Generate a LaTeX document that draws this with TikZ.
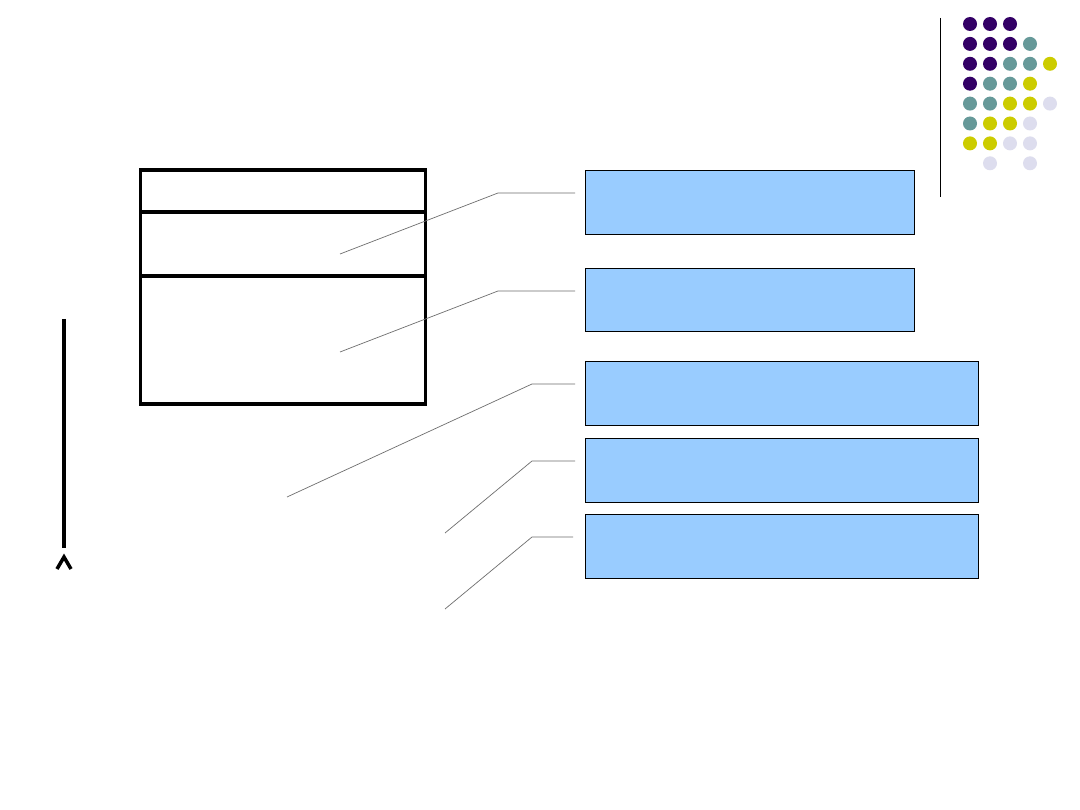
\documentclass[tikz,border=0pt]{standalone}
\begin{document}
\begin{tikzpicture}[x=1pt,y=-1pt,
  bluebox/.style={draw=black,line width=0.8pt,fill={rgb,255:red,153;green,204;blue,255},inner sep=0pt,outer sep=0pt},
  callout/.style={draw={rgb,255:red,110;green,110;blue,110},line width=0.7pt},
  thick frame/.style={line width=3.6pt,draw=black,outer sep=0pt},
  dotP/.style={fill={rgb,255:red,51;green,0;blue,102}},
  dotT/.style={fill={rgb,255:red,102;green,153;blue,153}},
  dotY/.style={fill={rgb,255:red,204;green,204;blue,0}},
  dotL/.style={fill={rgb,255:red,221;green,221;blue,238}}]
\useasboundingbox (0,0) rectangle (1080,810);
\fill[white] (0,0) rectangle (1080,810);
% dot grid
\foreach \c/\r/\s in {0/0/P,1/0/P,2/0/P,
  0/1/P,1/1/P,2/1/P,3/1/T,
  0/2/P,1/2/P,2/2/T,3/2/T,4/2/Y,
  0/3/P,1/3/T,2/3/T,3/3/Y,
  0/4/T,1/4/T,2/4/Y,3/4/Y,4/4/L,
  0/5/T,1/5/Y,2/5/Y,3/5/L,
  0/6/Y,1/6/Y,2/6/L,3/6/L,
  1/7/L,3/7/L}
  \path[dot\s] (970+20*\c,24+19.9*\r) circle (7);
\draw[line width=1pt] (940,18) coordinate (vt) -- (940,197) coordinate (vb);
% frame
\node[thick frame,minimum width=285pt,minimum height=234pt,anchor=north west,inner sep=0pt] (frame) at (140.5,170) {};
\coordinate (d1l) at (140.5,212); \coordinate (d1r) at (425.5,212);
\coordinate (d2l) at (140.5,276); \coordinate (d2r) at (425.5,276);
\draw[line width=3.6pt] (d1l) -- (d1r);
\draw[line width=3.6pt] (d2l) -- (d2r);
% left arrow
\coordinate (at) at (64,319); \coordinate (ab) at (64,548);
\draw[line width=3.6pt] (at) -- (ab);
\coordinate (c1) at (57,569); \coordinate (c2) at (64,557); \coordinate (c3) at (71,569);
\draw[line width=3.5pt,line join=miter] (c1) -- (c2) -- (c3);
% blue boxes
\node[bluebox,minimum width=329pt,minimum height=64pt,anchor=north west] (b1) at (585,170) {};
\node[bluebox,minimum width=329pt,minimum height=63pt,anchor=north west] (b2) at (585,268) {};
\node[bluebox,minimum width=393pt,minimum height=64pt,anchor=north west] (b3) at (585,361) {};
\node[bluebox,minimum width=393pt,minimum height=64pt,anchor=north west] (b4) at (585,438) {};
\node[bluebox,minimum width=393pt,minimum height=64pt,anchor=north west] (b5) at (585,514) {};
% callouts
\coordinate (s1) at (340,254); \coordinate (k1) at (498,193); \coordinate (e1) at (575,193);
\coordinate (s2) at (340,352); \coordinate (k2) at (498,291); \coordinate (e2) at (575,291);
\coordinate (s3) at (287,497); \coordinate (k3) at (532,384); \coordinate (e3) at (575,384);
\coordinate (s4) at (445,533); \coordinate (k4) at (532,461); \coordinate (e4) at (575,461);
\coordinate (s5) at (445,609); \coordinate (k5) at (532,537); \coordinate (e5) at (573,537);
\foreach \i in {1,...,5} \draw[callout] (s\i) -- (k\i) -- (e\i);
\end{tikzpicture}
\end{document}
